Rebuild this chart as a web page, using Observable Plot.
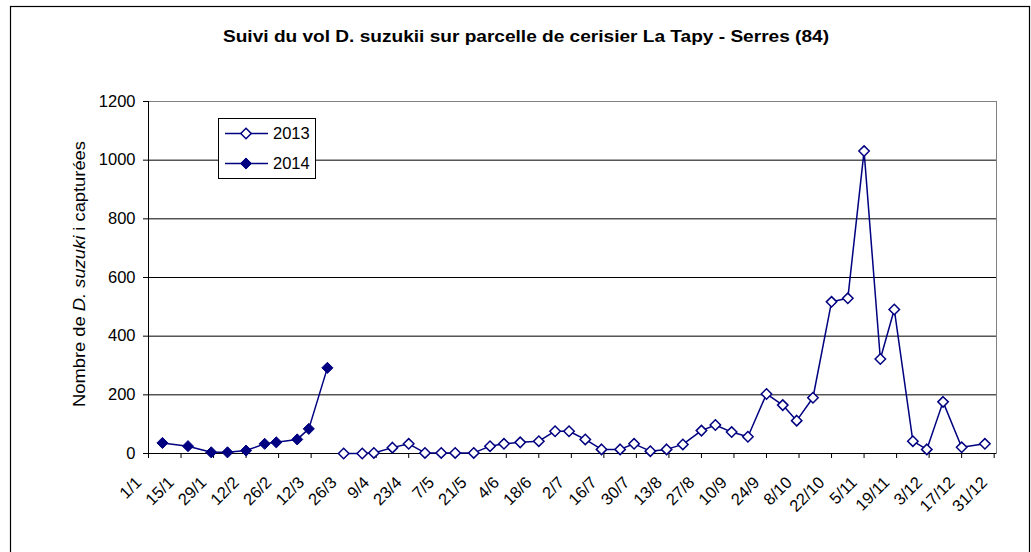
<!DOCTYPE html>
<html><head><meta charset="utf-8">
<script src="https://cdn.jsdelivr.net/npm/d3@7"></script>
<script src="https://cdn.jsdelivr.net/npm/@observablehq/plot@0.6"></script>
<style>body{margin:0;background:#fff}#chart{position:relative;width:1031px;height:552px;overflow:hidden}</style>
</head><body><div id="chart"></div>
<script>
const title = "Suivi du vol D. suzukii sur parcelle de cerisier La Tapy - Serres (84)";
const yLabelParts = [["Nombre de ", "normal"], ["D. suzuki", "italic"], [" i capturées", "normal"]];
const xTickLabels = ["1/1","15/1","29/1","12/2","26/2","12/3","26/3","9/4","23/4","7/5","21/5","4/6","18/6","2/7","16/7","30/7","13/8","27/8","10/9","24/9","8/10","22/10","5/11","19/11","3/12","17/12","31/12"];
const yTicks = [0, 200, 400, 600, 800, 1000, 1200];
const seriesNames = ["2013", "2014"];

const dates2013 = ["26/3","3/4","8/4","16/4","23/4","30/4","7/5","13/5","21/5","28/5","3/6","10/6","18/6","25/6","1/7","8/7","15/7","23/7","29/7","5/8","12/8","19/8","27/8","2/9","9/9","16/9","24/9","1/10","7/10","14/10","22/10","29/10","5/11","12/11","18/11","26/11","2/12","9/12","17/12","27/12"];
const values2013 = [0,0,2,20,33,2,2,2,2,25,33,38,42,76,76,48,14,14,33,8,14,31,78,97,73,57,203,165,112,190,517,529,1031,322,491,42,14,176,21,33];

const dates2014 = ["7/1","18/1","28/1","4/2","12/2","20/2","25/2","6/3","11/3","19/3"];
const values2014 = [36,25,4,4,10,33,38,48,84,292];

const parseDM = s => { const [d, m] = s.split("/").map(Number); return new Date(Date.UTC(2013, m - 1, d)); };
const s2013 = dates2013.map((d, i) => ({date: parseDM(d), value: values2013[i]}));
const s2014 = dates2014.map((d, i) => ({date: parseDM(d), value: values2014[i]}));
const x0 = new Date(Date.UTC(2013, 0, 1)), x1 = new Date(Date.UTC(2014, 0, 1));
const navy = "#000080";
const font = "'Liberation Sans', Arial, sans-serif";

const plot = Plot.plot({
  width: 1031, height: 552,
  marginLeft: 148, marginRight: 35, marginTop: 101, marginBottom: 99,
  style: {fontFamily: font, fontSize: "16px", background: "white", color: "#000"},
  x: {type: "utc", domain: [x0, x1]},
  y: {domain: [0, 1200]},
  marks: [
    Plot.frame({stroke: "#808080"}),
    Plot.ruleY(yTicks.filter(v => v > 0 && v < 1200), {stroke: "#000", strokeWidth: 1}),
    Plot.axisY({ticks: yTicks, tickSize: 5, tickPadding: 8, label: null, tickFormat: d => String(d), fontSize: 16.5}),
    Plot.ruleX([x0], {stroke: "#000"}),
    Plot.ruleY([0], {stroke: "#000"}),
    Plot.axisX({ticks: xTickLabels.map(parseDM), tickSize: 5, tickFormat: () => "", label: null}),
    Plot.text(xTickLabels, {x: parseDM, text: d => d, frameAnchor: "bottom", rotate: -45, textAnchor: "end", lineAnchor: "bottom", dx: -6, dy: 30, fontSize: 16.5}),
    Plot.line(s2013, {x: "date", y: "value", stroke: navy, strokeWidth: 1.5}),
    Plot.line(s2014, {x: "date", y: "value", stroke: navy, strokeWidth: 1.5}),
    Plot.dot(s2013, {x: "date", y: "value", symbol: "diamond2", r: 4.7, fill: "white", stroke: navy, strokeWidth: 1.5}),
    Plot.dot(s2014, {x: "date", y: "value", symbol: "diamond2", r: 5, fill: navy, stroke: navy, strokeWidth: 1})
  ]
});

const svg = d3.select(plot);
// outer border
svg.append("rect").attr("x", 10.5).attr("y", 6.5).attr("width", 1019).attr("height", 600)
  .attr("fill", "none").attr("stroke", "#000").attr("stroke-width", 1.2);
// title
svg.append("text").attr("x", 526).attr("y", 41.5).attr("text-anchor", "middle")
  .attr("textLength", 606).attr("lengthAdjust", "spacingAndGlyphs")
  .attr("font-family", font).attr("font-size", 17).attr("font-weight", "bold").attr("fill", "#000").text(title);
// y label
const yl = svg.append("text").attr("transform", "translate(85,274) rotate(-90)").attr("text-anchor", "middle")
  .attr("textLength", 266).attr("lengthAdjust", "spacingAndGlyphs")
  .attr("font-family", font).attr("font-size", 17).attr("fill", "#000");
yLabelParts.forEach(([t, st]) => yl.append("tspan").attr("font-style", st).text(t));
// legend
const lg = svg.append("g").attr("text-anchor", "start");
lg.append("rect").attr("x", 218.5).attr("y", 118.5).attr("width", 97).attr("height", 60)
  .attr("fill", "white").attr("stroke", "#000");
const sym = d3.symbol(d3.symbolDiamond2);
seriesNames.forEach((name, i) => {
  const cy = 133.5 + i * 30;
  lg.append("line").attr("x1", 225).attr("x2", 268).attr("y1", cy).attr("y2", cy).attr("stroke", navy).attr("stroke-width", 1.5);
  const r = i === 0 ? 4.7 : 5;
  lg.append("path").attr("d", sym.size(Math.PI * r * r)()).attr("transform", `translate(246,${cy})`)
    .attr("fill", i === 0 ? "white" : navy).attr("stroke", navy).attr("stroke-width", i === 0 ? 1.5 : 1);
  lg.append("text").attr("x", 273).attr("y", cy).attr("dy", "0.35em").attr("text-anchor", "start").attr("font-family", font)
    .attr("font-size", 16.5).attr("fill", "#000").text(name);
});

document.getElementById("chart").appendChild(plot);
</script>
</body></html>
